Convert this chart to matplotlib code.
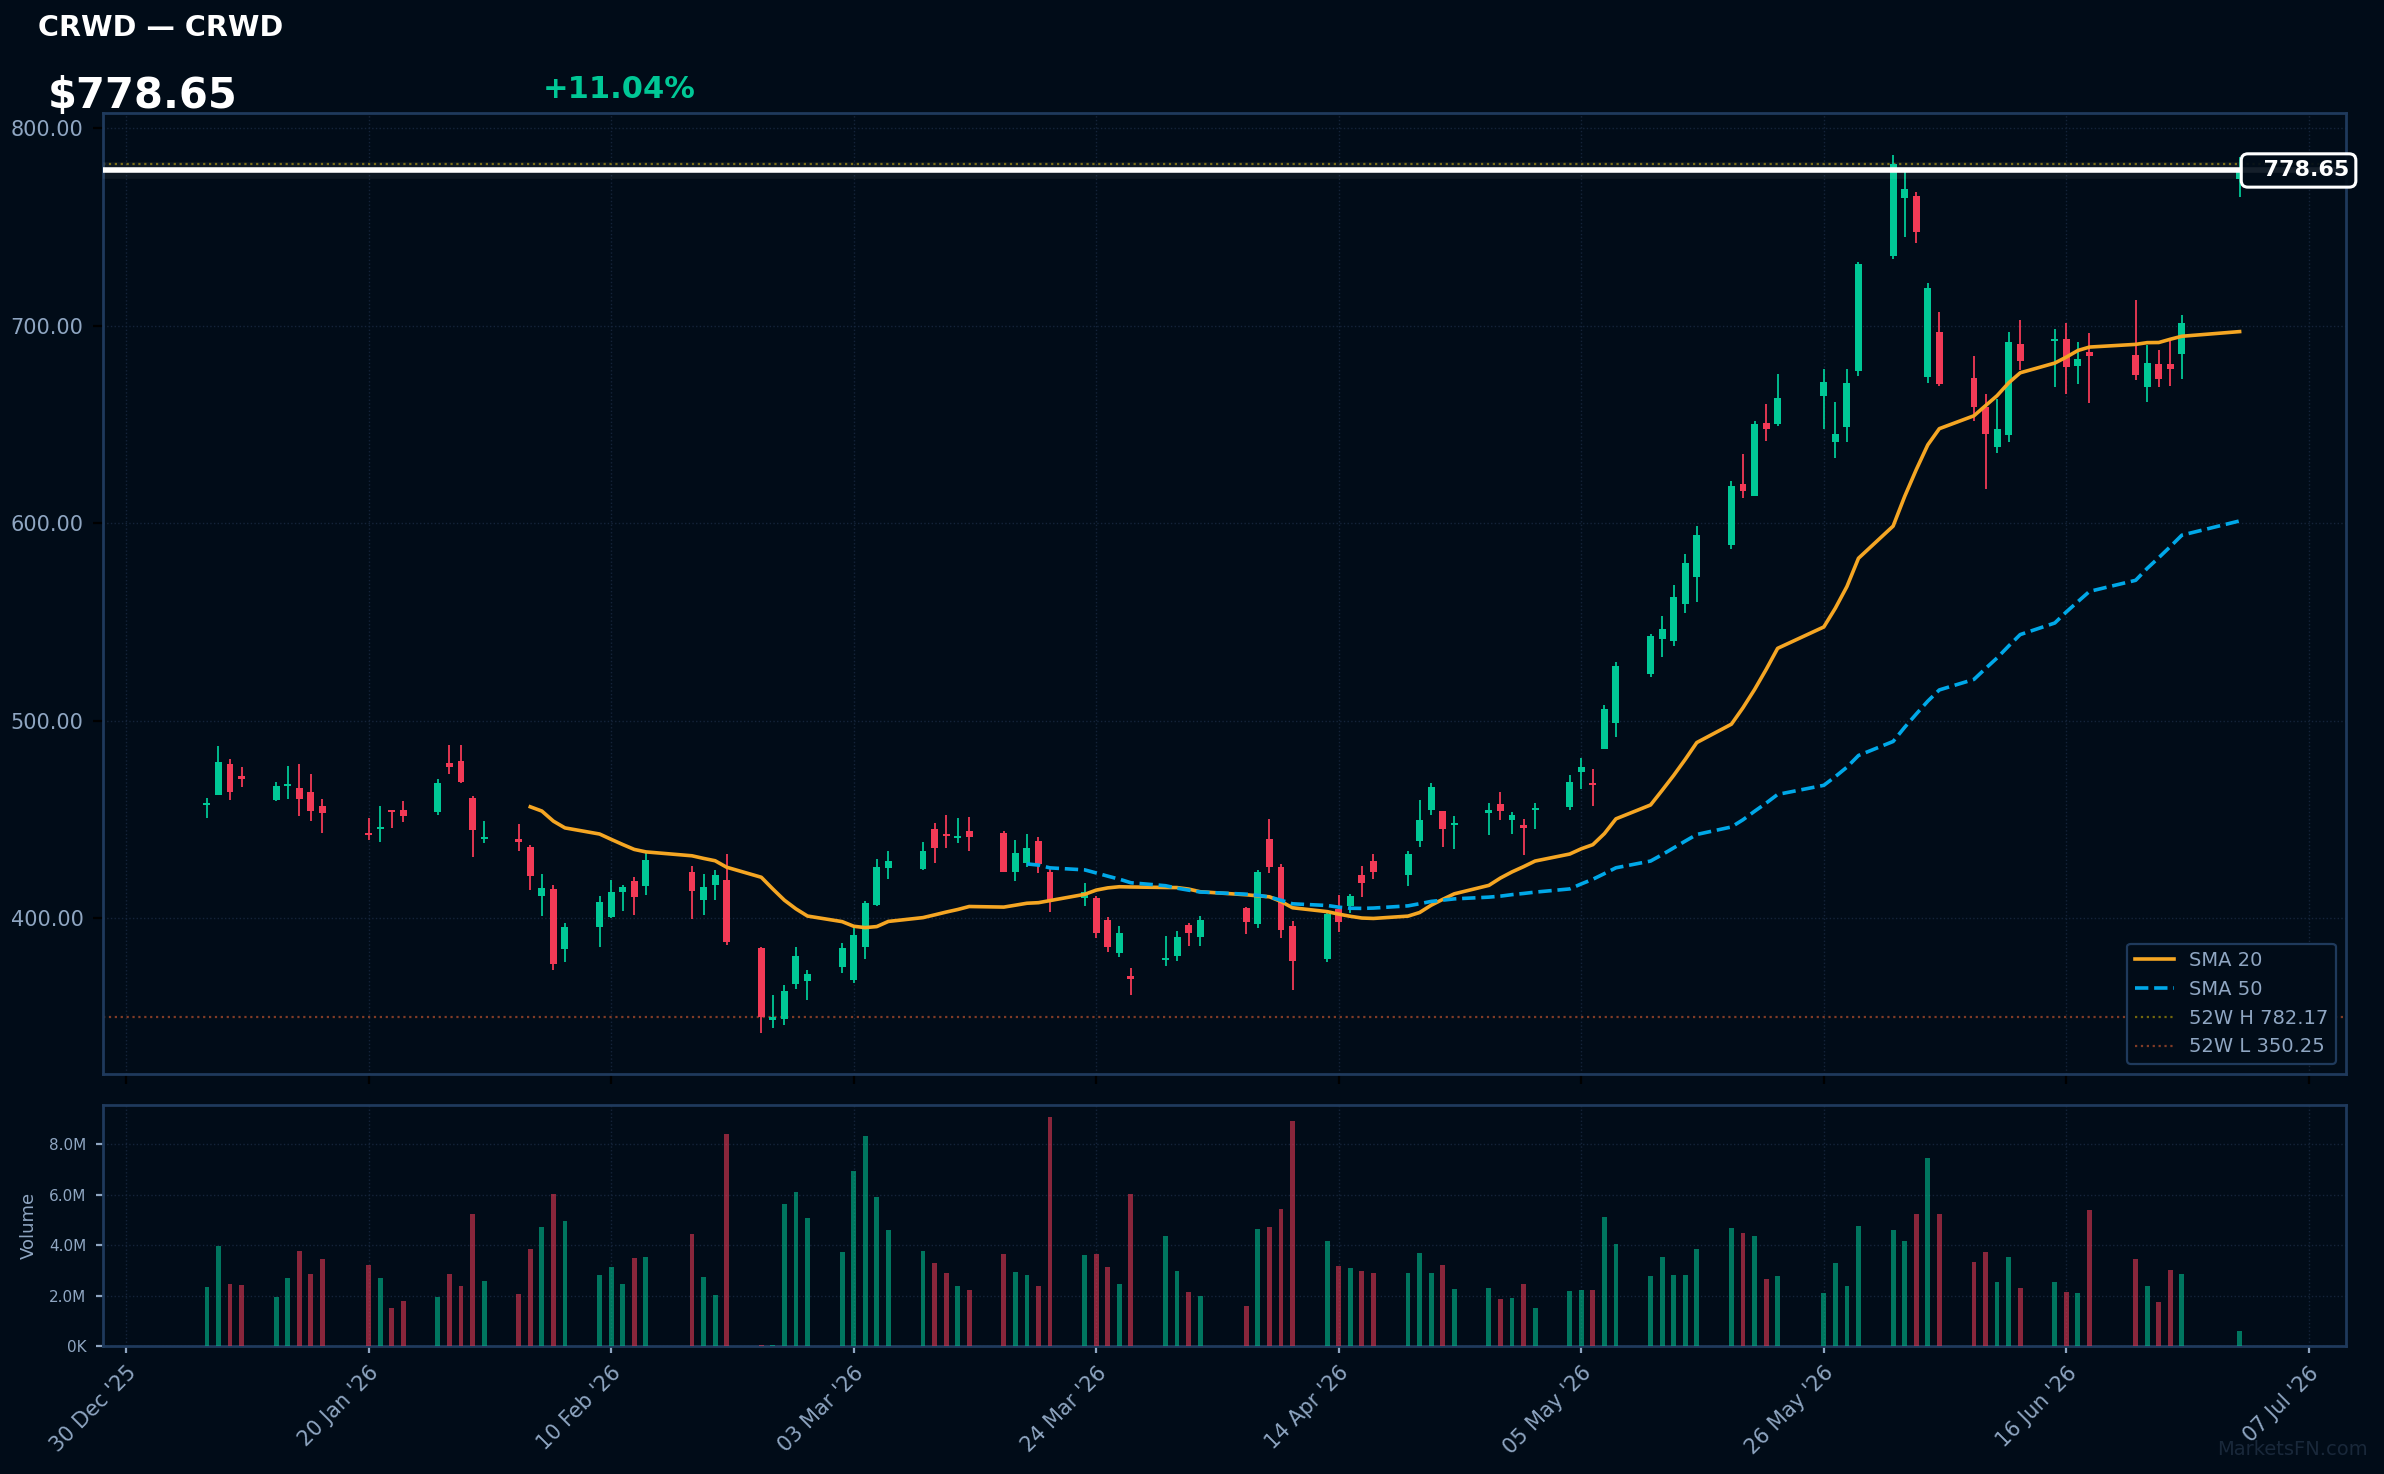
import matplotlib
matplotlib.use('Agg')
import matplotlib.pyplot as plt
import matplotlib.dates as mdates
from matplotlib.ticker import FixedLocator, FuncFormatter
import numpy as np
import pandas as pd

ticker = 'CRWD'

dates = [
    '2026-01-06', '2026-01-07', '2026-01-08', '2026-01-09',
    '2026-01-12', '2026-01-13', '2026-01-14', '2026-01-15', '2026-01-16',
    '2026-01-20', '2026-01-21', '2026-01-22', '2026-01-23',
    '2026-01-26', '2026-01-27', '2026-01-28', '2026-01-29', '2026-01-30',
    '2026-02-02', '2026-02-03', '2026-02-04', '2026-02-05', '2026-02-06',
    '2026-02-09', '2026-02-10', '2026-02-11', '2026-02-12', '2026-02-13',
    '2026-02-17', '2026-02-18', '2026-02-19', '2026-02-20',
    '2026-02-23', '2026-02-24', '2026-02-25', '2026-02-26', '2026-02-27',
    '2026-03-02', '2026-03-03', '2026-03-04', '2026-03-05', '2026-03-06',
    '2026-03-09', '2026-03-10', '2026-03-11', '2026-03-12', '2026-03-13',
    '2026-03-16', '2026-03-17', '2026-03-18', '2026-03-19', '2026-03-20',
    '2026-03-23', '2026-03-24', '2026-03-25', '2026-03-26', '2026-03-27',
    '2026-03-30', '2026-03-31', '2026-04-01', '2026-04-02',
    '2026-04-06', '2026-04-07', '2026-04-08', '2026-04-09', '2026-04-10',
    '2026-04-13', '2026-04-14', '2026-04-15', '2026-04-16', '2026-04-17',
    '2026-04-20', '2026-04-21', '2026-04-22', '2026-04-23', '2026-04-24',
    '2026-04-27', '2026-04-28', '2026-04-29', '2026-04-30', '2026-05-01',
    '2026-05-04', '2026-05-05', '2026-05-06', '2026-05-07', '2026-05-08',
    '2026-05-11', '2026-05-12', '2026-05-13', '2026-05-14', '2026-05-15',
    '2026-05-18', '2026-05-19', '2026-05-20', '2026-05-21', '2026-05-22',
    '2026-05-26', '2026-05-27', '2026-05-28', '2026-05-29',
    '2026-06-01', '2026-06-02', '2026-06-03', '2026-06-04', '2026-06-05',
    '2026-06-08', '2026-06-09', '2026-06-10', '2026-06-11', '2026-06-12',
    '2026-06-15', '2026-06-16', '2026-06-17', '2026-06-18',
    '2026-06-22', '2026-06-23', '2026-06-24', '2026-06-25', '2026-06-26',
    '2026-07-01',
]

opens = [
    457.5, 462.6, 478.3, 472.2,
    460.1, 466.8, 466.1, 464.1, 457.0,
    443.3, 445.0, 454.5, 455.0,
    453.6, 478.8, 479.8, 461.0, 440.4,
    440.3, 436.2, 411.5, 414.9, 384.6,
    395.7, 400.7, 413.4, 418.9, 416.4,
    423.5, 409.3, 416.9, 419.5,
    385.1, 348.5, 348.9, 366.8, 368.3,
    375.4, 368.8, 385.6, 406.8, 425.7,
    425.0, 445.3, 442.8, 440.9, 444.3,
    443.3, 423.7, 428.1, 439.2, 423.7,
    410.5, 410.3, 399.3, 382.5, 370.7,
    379.0, 381.0, 396.6, 390.7,
    405.3, 397.3, 440.3, 426.0, 396.1,
    379.5, 404.7, 406.2, 422.0, 429.1,
    422.0, 439.4, 455.0, 454.1, 447.4,
    453.1, 458.0, 450.0, 447.4, 454.6,
    456.5, 474.3, 468.7, 485.9, 499.1,
    523.7, 541.4, 540.4, 559.3, 573.0,
    589.0, 619.9, 613.8, 650.8, 650.4,
    664.6, 641.0, 648.9, 677.3,
    735.4, 764.7, 765.7, 673.9, 696.7,
    673.4, 659.0, 638.8, 644.7, 690.8,
    692.4, 693.3, 679.8, 686.6,
    685.2, 668.9, 680.5, 680.5, 685.7,
    774.2,
]

highs = [
    461.0, 487.5, 480.9, 476.6,
    469.0, 477.3, 477.9, 473.2, 460.5,
    450.9, 457.0, 455.0, 459.5,
    470.7, 488.0, 488.0, 462.0, 449.4,
    447.9, 437.2, 422.5, 417.0, 397.6,
    411.3, 419.4, 417.0, 421.0, 433.2,
    426.5, 422.5, 424.5, 432.6,
    385.4, 361.0, 366.1, 385.4, 373.8,
    387.3, 395.7, 408.8, 430.1, 434.2,
    438.7, 448.4, 452.4, 450.9, 451.4,
    444.3, 439.7, 442.8, 441.3, 425.0,
    417.9, 411.3, 400.7, 396.1, 374.8,
    391.0, 393.6, 397.6, 401.2,
    405.8, 424.5, 450.4, 427.6, 398.6,
    404.2, 411.8, 412.4, 426.5, 432.6,
    434.2, 460.0, 468.7, 454.5, 451.9,
    458.5, 464.1, 454.0, 450.4, 458.5,
    472.8, 481.4, 475.8, 507.8, 529.6,
    544.0, 553.0, 568.8, 584.5, 598.6,
    621.5, 635.1, 651.8, 660.4, 675.6,
    678.0, 661.3, 678.0, 732.3,
    786.5, 778.5, 767.7, 721.5, 707.0,
    684.7, 665.5, 662.8, 696.9, 703.0,
    698.2, 701.6, 691.8, 696.5,
    713.0, 690.3, 687.7, 692.8, 705.5,
    785.6,
]

lows = [
    451.0, 462.2, 460.0, 466.3,
    459.6, 460.6, 451.6, 449.4, 443.3,
    439.7, 438.7, 445.8, 448.9,
    452.1, 473.2, 468.5, 431.3, 437.9,
    434.2, 414.4, 401.2, 374.0, 378.0,
    385.6, 400.3, 403.7, 401.7, 411.8,
    399.6, 401.7, 409.3, 386.5,
    341.9, 344.5, 345.8, 364.1, 358.5,
    372.4, 367.3, 379.5, 406.2, 420.0,
    424.5, 428.2, 435.8, 437.9, 434.2,
    423.5, 418.9, 426.2, 423.1, 403.4,
    406.4, 390.2, 383.0, 380.5, 361.2,
    375.9, 378.5, 386.1, 386.1,
    392.0, 395.2, 423.1, 390.2, 363.8,
    378.0, 393.2, 402.7, 410.8, 420.0,
    416.4, 436.3, 452.4, 436.3, 435.2,
    442.3, 449.9, 442.8, 432.1, 445.3,
    455.0, 465.6, 457.0, 485.9, 492.0,
    522.1, 532.5, 538.0, 554.7, 560.3,
    587.0, 613.0, 613.8, 641.7, 649.5,
    648.0, 632.9, 641.3, 674.6,
    733.8, 745.0, 741.9, 670.9, 669.5,
    652.0, 617.4, 635.8, 641.0, 677.6,
    668.8, 665.5, 670.5, 660.7,
    672.6, 661.6, 668.9, 669.7, 673.0,
    765.4,
]

closes = [
    458.5, 479.3, 463.8, 470.4,
    467.2, 468.2, 460.6, 454.5, 453.5,
    442.3, 445.8, 453.6, 451.9,
    468.7, 476.4, 468.8, 444.5, 441.3,
    438.4, 421.6, 415.4, 377.0, 395.6,
    408.3, 413.4, 415.9, 410.8, 429.6,
    413.9, 415.9, 422.0, 388.0,
    350.25, 349.9, 363.1, 380.9, 371.7,
    384.9, 391.5, 407.8, 426.0, 429.1,
    434.2, 435.8, 441.9, 441.8, 441.4,
    423.7, 433.1, 435.7, 427.7, 409.3,
    413.4, 392.7, 385.6, 392.5, 369.3,
    380.0, 390.5, 392.5, 399.1,
    398.1, 423.5, 426.2, 394.2, 378.5,
    402.2, 398.3, 411.3, 418.1, 423.5,
    432.8, 449.9, 466.5, 445.0, 448.5,
    455.0, 454.5, 452.4, 445.5, 456.0,
    469.2, 476.8, 467.7, 506.2, 528.0,
    542.8, 546.5, 562.7, 579.9, 594.1,
    618.9, 616.4, 650.3, 647.7, 663.4,
    671.7, 645.1, 671.1, 731.5,
    782.17, 769.3, 747.5, 719.0, 670.4,
    658.7, 645.0, 647.7, 691.8, 682.3,
    693.0, 679.3, 683.2, 684.9,
    675.1, 681.0, 672.9, 678.3, 701.23,
    778.65,
]

# volume in millions
volumes = [
    2.34, 3.97, 2.46, 2.42,
    1.94, 2.70, 3.77, 2.86, 3.45,
    3.22, 2.70, 1.50, 1.78,
    1.94, 2.86, 2.38, 5.25, 2.58,
    2.06, 3.85, 4.73, 6.04, 4.97,
    2.82, 3.14, 2.46, 3.49, 3.53,
    4.45, 2.74, 2.02, 8.40,
    0.03, 0.03, 5.65, 6.12, 5.09,
    3.73, 6.96, 8.32, 5.93, 4.61,
    3.77, 3.29, 2.90, 2.38, 2.22,
    3.65, 2.94, 2.82, 2.38, 9.11,
    3.61, 3.65, 3.14, 2.46, 6.04,
    4.37, 2.98, 2.14, 1.98,
    1.58, 4.65, 4.73, 5.45, 8.95,
    4.17, 3.18, 3.10, 2.98, 2.90,
    2.90, 3.69, 2.90, 3.22, 2.26,
    2.30, 1.86, 1.90, 2.46, 1.50,
    2.18, 2.22, 2.22, 5.13, 4.05,
    2.78, 3.53, 2.82, 2.82, 3.85,
    4.69, 4.49, 4.37, 2.66, 2.78,
    2.10, 3.29, 2.38, 4.77,
    4.61, 4.17, 5.25, 7.48, 5.25,
    3.33, 3.73, 2.54, 3.53, 2.30,
    2.54, 2.14, 2.10, 5.41,
    3.45, 2.38, 1.74, 3.02, 2.86,
    0.58,
]

high_52w = 782.17
low_52w = 350.25
xtick_dates = ['2025-12-30', '2026-01-20', '2026-02-10', '2026-03-03', '2026-03-24',
               '2026-04-14', '2026-05-05', '2026-05-26', '2026-06-16', '2026-07-07']

BG = '#010c18'
UP = '#00c896'
DOWN = '#f23a56'
GRID = '#15243a'
SPINE = '#1f3a5c'
TXT = '#8fa6c2'

x = mdates.date2num(pd.to_datetime(dates))
o = np.array(opens)
h = np.array(highs)
l = np.array(lows)
c = np.array(closes)
v = np.array(volumes)
sma20 = pd.Series(c).rolling(20).mean()
sma50 = pd.Series(c).rolling(50).mean()
is_up = c >= o
cols = np.where(is_up, UP, DOWN)

fig = plt.figure(figsize=(11.92, 7.37), dpi=200, facecolor=BG)
ax = fig.add_axes([0.0432, 0.2714, 0.9408, 0.6520], facecolor=BG)
axv = fig.add_axes([0.0432, 0.0868, 0.9408, 0.1635], facecolor=BG, sharex=ax)

# candles
ax.vlines(x, l, h, colors=cols, lw=0.65, zorder=3)
ax.bar(x, np.maximum(np.abs(c - o), 1.0), width=0.6, bottom=np.minimum(o, c),
       color=cols, linewidth=0, zorder=4)

ax.plot(x, sma20, color='#f5a623', lw=1.3, zorder=5, label='SMA 20')
ax.plot(x, sma50, color='#00a8e8', lw=1.3, ls='--', zorder=5, label='SMA 50')
ax.axhline(high_52w, color='#ffd700', alpha=0.45, ls=':', lw=0.8, zorder=2,
           label=f'52W H {high_52w:.2f}')
ax.axhline(low_52w, color='#ff6b35', alpha=0.5, ls=':', lw=0.8, zorder=2,
           label=f'52W L {low_52w:.2f}')

last = c[-1]
ax.axhline(last, color='white', lw=6, alpha=0.05, zorder=6)
ax.axhline(last, color='white', lw=2.0, zorder=6)
ax.annotate(f'  {last:.2f}', xy=(x[-1], last), xytext=(3, 0), textcoords='offset points',
            ha='left', va='center', color='white', fontsize=8, fontweight='bold',
            zorder=8, annotation_clip=False,
            bbox=dict(boxstyle='round,pad=0.3', fc=(0.004, 0.047, 0.094, 0.92),
                      ec='white', lw=1.1))

ax.set_xlim(x[0] - 9, x[-1] + 9.2)
ax.set_ylim(321.2, 807.8)
ax.set_yticks([400, 500, 600, 700, 800])
ax.yaxis.set_major_formatter(FuncFormatter(lambda val, _: f'{val:.2f}'))

leg = ax.legend(loc='lower right', fontsize=7, facecolor=BG, edgecolor=SPINE,
                labelcolor=TXT, framealpha=1)
leg.get_frame().set_linewidth(0.8)

# volume
axv.bar(x, v, width=0.42, color=cols, alpha=0.57, linewidth=0, zorder=3)
axv.set_ylim(0, v.max() * 1.05)
axv.set_yticks([0, 2, 4, 6, 8])
axv.yaxis.set_major_formatter(FuncFormatter(lambda val, _: f'{val:.1f}M' if val > 0 else '0K'))
axv.set_ylabel('Volume', color=TXT, fontsize=6.5)

axv.xaxis.set_major_locator(FixedLocator(mdates.date2num(pd.to_datetime(xtick_dates))))
axv.xaxis.set_major_formatter(mdates.DateFormatter("%d %b '%y"))

for a in (ax, axv):
    for s in a.spines.values():
        s.set_color(SPINE)
        s.set_linewidth(1.0)
    a.grid(True, ls=':', color=GRID, lw=0.5, zorder=0)
    a.set_axisbelow(True)

ax.tick_params(axis='y', colors='black', labelcolor=TXT, labelsize=7.5, length=3.5)
ax.tick_params(axis='x', colors='black', labelbottom=False, length=3.5)
axv.tick_params(axis='y', colors=TXT, labelsize=5.5, length=2.5)
axv.tick_params(axis='x', colors=TXT, labelsize=7.5, length=2.5)
plt.setp(axv.get_xticklabels(), rotation=45, ha='right', rotation_mode='anchor')

# header
pct = (c[-1] / c[-2] - 1) * 100
fig.text(0.016, 0.9756, f'{ticker} \u2014 {ticker}', color='white', fontsize=10.3,
         fontweight='bold', ha='left', va='baseline')
fig.text(0.0200, 0.9265, f'${last:.2f}', color='white', fontsize=15,
         fontweight='bold', ha='left', va='baseline')
fig.text(0.2278, 0.9333, f'{pct:+.2f}%', color=UP, fontsize=11,
         fontweight='bold', ha='left', va='baseline')
fig.text(0.9933, 0.0129, 'MarketsFN.com', color='#19283a', fontsize=7,
         ha='right', va='baseline')

fig.savefig('out.png', dpi=200, facecolor=BG)
